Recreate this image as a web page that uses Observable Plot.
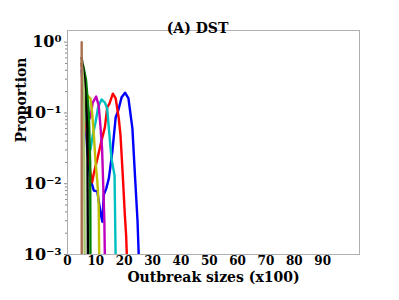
<!DOCTYPE html>
<html>
<head>
<meta charset="utf-8">
<script src="https://cdn.jsdelivr.net/npm/d3@7"></script>
<script src="https://cdn.jsdelivr.net/npm/@observablehq/plot@0.6"></script>
<style>
  html, body { margin: 0; padding: 0; background: #fff; }
</style>
</head>
<body>
<div id="chart"></div>
<script>
// ---- data (outbreak size in hundreds, proportion) ----
const seriesNames = ["s1", "s2", "s3", "s4", "s5", "s6", "s7", "s8", "s9"];

const s1X = [5, 6, 7, 8, 9.3, 10.5, 11.7, 12.3, 12.8, 13.7, 14.6, 15.8, 17, 17.9, 19.1, 20.3, 21.5, 22.9, 23.8, 24.7, 25.2];
const s1Y = [0.4, 0.1, 0.03, 0.012, 0.008, 0.0078, 0.0038, 0.0029, 0.007, 0.0086, 0.012, 0.028, 0.087, 0.108, 0.167, 0.193, 0.16, 0.06, 0.013, 0.003, 0.0008];

const s2X = [5, 6, 7, 8, 8.7, 9.3, 10.8, 11.9, 13.2, 14, 14.8, 16, 17, 18.1, 18.7, 19.5, 20.2, 20.7, 21];
const s2Y = [0.5, 0.15, 0.04, 0.015, 0.0105, 0.014, 0.025, 0.039, 0.063, 0.12, 0.135, 0.187, 0.16, 0.083, 0.048, 0.013, 0.0038, 0.0018, 0.0008];

const s3X = [5, 6, 7, 7.6, 8.1, 8.9, 9.9, 10.8, 12, 13.2, 14, 14.8, 15.5, 16.6, 17];
const s3Y = [0.5, 0.2, 0.06, 0.033, 0.03, 0.048, 0.074, 0.12, 0.155, 0.14, 0.115, 0.048, 0.023, 0.013, 0.0008];

const s4X = [5, 6, 7, 7.5, 8.1, 8.9, 10.1, 11, 11.6, 12.2, 12.5, 13, 13.2];
const s4Y = [0.5, 0.2, 0.1, 0.08, 0.087, 0.14, 0.17, 0.128, 0.067, 0.031, 0.013, 0.003, 0.0008];

const s5X = [5, 6, 6.8, 7.6, 8.1, 8.7, 9.3, 9.9, 10.5, 11, 11.2];
const s5Y = [0.5, 0.3, 0.18, 0.167, 0.16, 0.1, 0.048, 0.02, 0.011, 0.005, 0.0008];

const s6X = [5, 5.5, 6.5, 7.5, 8, 8.1];
const s6Y = [0.5, 0.47, 0.3, 0.1, 0.02, 0.0008];

const s7X = [5, 6, 7, 7.2];
const s7Y = [0.6, 0.3, 0.06, 0.0008];

const s8X = [5, 5.8, 6.05];
const s8Y = [0.55, 0.2, 0.0008];

const s9X = [5, 5.02];
const s9Y = [1.0, 0.0008];

const xTicks = [0, 10, 20, 30, 40, 50, 60, 70, 80, 90];
const yTicks = [1e-3, 1e-2, 1e-1, 1];
const yTickLabels = ["10⁻³", "10⁻²", "10⁻¹", "10⁰"];
const yMinorTicks = [2,3,4,5,6,7,8,9].flatMap(m => [m * 1e-3, m * 1e-2, m * 1e-1]);

const titleText = "(A) DST";
const xLabel = "Outbreak sizes (x100)";
const yLabel = "Proportion";

// ---- build table ----
const seriesXs = [s1X, s2X, s3X, s4X, s5X, s6X, s7X, s8X, s9X];
const seriesYs = [s1Y, s2Y, s3Y, s4Y, s5Y, s6Y, s7Y, s8Y, s9Y];
const rows = seriesNames.flatMap((s, k) => seriesXs[k].map((x, i) => ({series: s, x, y: seriesYs[k][i]})));

const colorRange = ["#0000ff", "#ff0000", "#00bfbf", "#bf00bf", "#bfbf00", "#008000", "#000000", "#a8c870", "#a86e4e"];

const font = "'DejaVu Serif', serif";

const chart = Plot.plot({
  width: 399,
  height: 300,
  marginLeft: 67,
  marginRight: 40,
  marginTop: 30,
  marginBottom: 46,
  style: {fontFamily: font, fontWeight: "bold", background: "#fff", color: "#000"},
  x: {domain: [0, 103]},
  y: {type: "log", domain: [1e-3, 1.46]},
  color: {type: "ordinal", domain: seriesNames, range: colorRange},
  marks: [
    Plot.axisY({ticks: yMinorTicks, tickSize: 2, text: null, stroke: "#888", label: null}),
    Plot.axisY({ticks: yTicks, tickSize: 3, tickPadding: 3, stroke: "#888",
      tickFormat: d => yTickLabels[yTicks.indexOf(d)], fontSize: 16, label: null}),
    Plot.axisX({ticks: xTicks, tickSize: 0, tickPadding: 2, fontSize: 12, label: null}),
    Plot.line(rows, {x: "x", y: "y", z: "series", stroke: "series", strokeWidth: 2.4, clip: true, strokeLinejoin: "round"}),
    Plot.frame({stroke: "#b0b0b0"}),
    Plot.text([titleText], {frameAnchor: "top", dx: -16, dy: -7, fontSize: 14}),
    Plot.text([xLabel], {frameAnchor: "bottom", dy: 27, fontSize: 14}),
    Plot.text([yLabel], {frameAnchor: "left", dx: -46, rotate: -90, fontSize: 14})
  ]
});

document.getElementById("chart").appendChild(chart);
</script>
</body>
</html>
